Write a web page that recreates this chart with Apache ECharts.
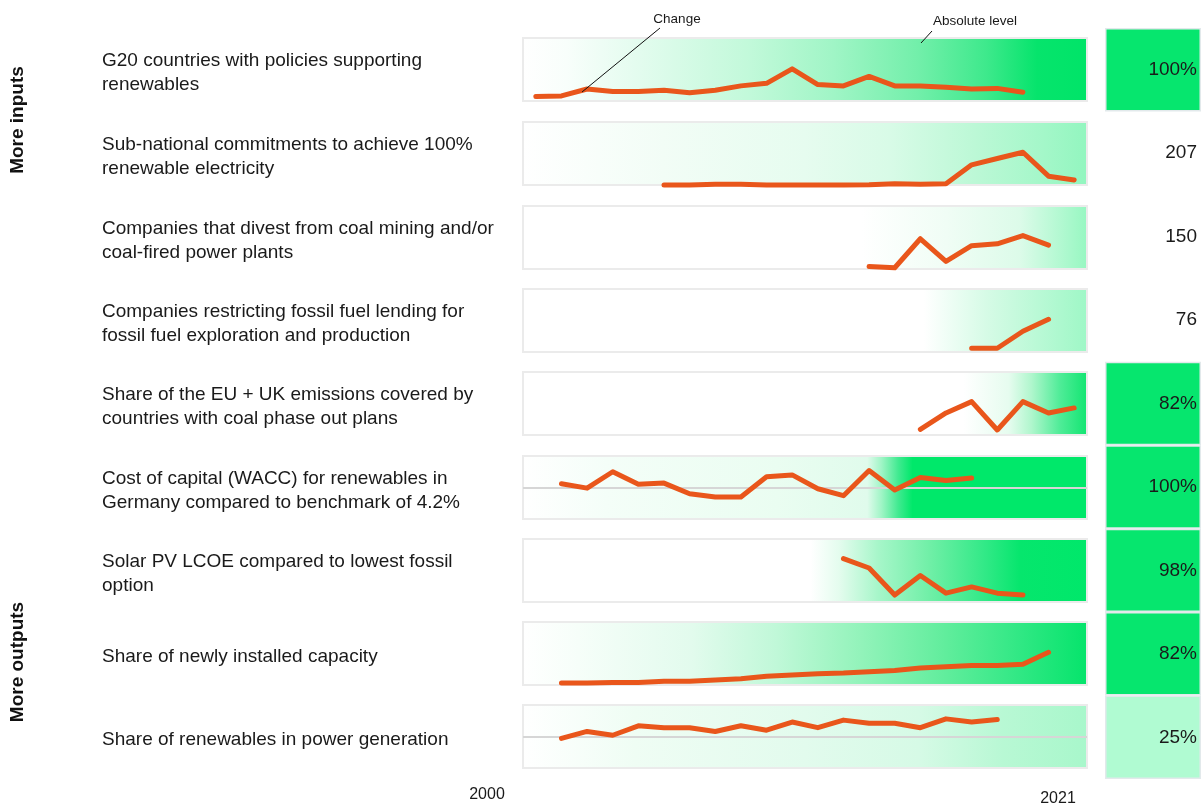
<!DOCTYPE html>
<html>
<head>
<meta charset="utf-8">
<script src="https://cdn.jsdelivr.net/npm/echarts@6/dist/echarts.min.js"></script>
<style>
html,body{margin:0;padding:0;background:#fff;}
#chart{width:1203px;height:805px;}
</style>
</head>
<body>
<div id="chart"></div>
<script>
// ---------- DATA ----------
const years = ['2000','2001','2002','2003','2004','2005','2006','2007','2008','2009','2010','2011','2012','2013','2014','2015','2016','2017','2018','2019','2020','2021'];
const tickLabels = ['2000', '2021'];
const indicators = [
  'G20 countries with policies supporting\nrenewables',
  'Sub-national commitments to achieve 100%\nrenewable electricity',
  'Companies that divest from coal mining and/or\ncoal-fired power plants',
  'Companies restricting fossil fuel lending for\nfossil fuel exploration and production',
  'Share of the EU + UK emissions covered by\ncountries with coal phase out plans',
  'Cost of capital (WACC) for renewables in\nGermany compared to benchmark of 4.2%',
  'Solar PV LCOE compared to lowest fossil\noption',
  'Share of newly installed capacity',
  'Share of renewables in power generation'
];
const absoluteLevel = ['100%', '207', '150', '76', '82%', '100%', '98%', '82%', '25%'];
// relative change values (0-100 within each sparkline panel), one per year 2000-2021
const g20Policies   = [7, 8, 19, 15, 15, 17, 13, 17, 24, 28, 51, 26, 24, 39, 24, 24, 22, 19, 20, 14, null, null];
const subNational   = [null, null, null, null, null, 0, 0, 1, 1, 0, 0, 0, 0, 0.5, 2, 1, 2, 32, 42, 52, 14, 8];
const coalDivest    = [null, null, null, null, null, null, null, null, null, null, null, null, null, 4, 2, 48, 12, 37, 40, 53, 38, null];
const fossilLending = [null, null, null, null, null, null, null, null, null, null, null, null, null, null, null, null, null, 6, 6, 33, 52, null];
const coalPhaseOut  = [null, null, null, null, null, null, null, null, null, null, null, null, null, null, null, 9, 35, 53, 8, 53, 35, 43];
const waccGermany   = [null, 56, 49, 75, 55, 57, 40, 35, 35, 67, 70, 48, 37, 77, 46, 66, 61, 65, null, null, null, null];
const solarLcoe     = [null, null, null, null, null, null, null, null, null, null, null, null, 69, 54, 11, 42, 14, 24, 14, 11, null, null];
const newCapacity   = [null, 3, 3, 4, 4, 6, 6, 8, 10, 14, 16, 18, 19, 21, 23, 27, 29, 31, 31, 33, 52, null];
const renewGen      = [null, 47, 58, 52, 67, 64, 64, 58, 67, 60, 73, 64, 76, 71, 71, 64, 78, 73, 77, null, null, null];
const seriesData = [g20Policies, subNational, coalDivest, fossilLending, coalPhaseOut, waccGermany, solarLcoe, newCapacity, renewGen];
const benchmarkRows = [5, 8]; // panels with a reference line at mid level
const benchmarkLevel = 50;

// ---------- STYLE ----------
const panelLeft = 523, panelWidth = 564, panelHeight = 63;
const panelTops = [38, 122, 206, 289, 372, 456, 539, 622, 705];
const W = '#ffffff';
const gradients = [
  [[0,W],[0.08,'#f8fefb'],[0.2,'#e4fcef'],[0.4,'#c2f9da'],[0.55,'#a0f5c6'],[0.7,'#72efaa'],[0.82,'#3ee98c'],[0.91,'#06e46c'],[1,'#00e468']],
  [[0,W],[0.25,'#f2fdf6'],[0.5,'#e6fcef'],[0.65,'#d8fbe7'],[0.8,'#bcf8d6'],[0.92,'#a4f7c9'],[1,'#92f6bf']],
  [[0,W],[0.6,W],[0.75,'#f0fdf5'],[0.88,'#dcfbe9'],[1,'#96f7c1']],
  [[0,W],[0.71,W],[0.82,'#d6fbe6'],[1,'#9ef7c6']],
  [[0,W],[0.78,W],[0.86,'#e6fcef'],[0.9,'#b0f6cd'],[0.95,'#50ec98'],[1,'#10e570']],
  [[0,W],[0.15,'#f4fef8'],[0.45,'#eafdf1'],[0.61,'#e0fbec'],[0.635,'#a0f5c6'],[0.665,'#40ea90'],[0.69,'#00e86a'],[1,'#00e86a']],
  [[0,W],[0.51,W],[0.56,'#e4fcee'],[0.63,'#a6f6c9'],[0.72,'#70efa7'],[0.82,'#30e986'],[0.88,'#06e66d'],[1,'#00e86a']],
  [[0,W],[0.1,'#f6fef9'],[0.3,'#e2fbed'],[0.45,'#c0f8d8'],[0.6,'#92f3ba'],[0.75,'#60ed9c'],[0.88,'#30e884'],[1,'#05e46b']],
  [[0,W],[0.2,'#effdf4'],[0.5,'#e2fbed'],[0.7,'#d6fae6'],[0.85,'#b8f8d4'],[1,'#a8f7cb']]
];
const boxColors = ['#06e66e', 'rgba(0,0,0,0)', 'rgba(0,0,0,0)', 'rgba(0,0,0,0)', '#06e66e', '#06e66e', '#06e66e', '#06e66e', '#b0fbd2'];
const lineColor = '#e9561b';
const FONT = '"Liberation Sans", Arial, sans-serif';

const grids = [], xAxes = [], yAxes = [], series = [], graphics = [];
seriesData.forEach((data, i) => {
  grids.push({
    left: panelLeft, top: panelTops[i], width: panelWidth, height: panelHeight,
    show: true, borderWidth: 2, borderColor: '#ebebeb',
    backgroundColor: {
      type: 'linear', x: 0, y: 0, x2: 1, y2: 0,
      colorStops: gradients[i].map(s => ({offset: s[0], color: s[1]}))
    }
  });
  xAxes.push({type: 'category', gridIndex: i, data: years, boundaryGap: true, show: false});
  yAxes.push({type: 'value', gridIndex: i, min: 0, max: 100, show: false});
  const s = {
    type: 'line', xAxisIndex: i, yAxisIndex: i, data: data,
    symbol: 'none', clip: false, z: 5,
    lineStyle: {color: lineColor, width: 5, cap: 'round', join: 'round'},
    silent: true
  };
  if (benchmarkRows.includes(i)) {
    s.markLine = {
      silent: true, symbol: 'none', label: {show: false}, z: 2,
      lineStyle: {color: '#d6d6d6', width: 2, type: 'solid'},
      data: [{yAxis: benchmarkLevel}]
    };
  }
  series.push(s);
  graphics.push({
    type: 'text', left: 102, top: panelTops[i] + panelHeight / 2 + 3 - (indicators[i].includes('\n') ? 24 : 12),
    style: {text: indicators[i], font: '19px ' + FONT, fill: '#1a1a1a', lineHeight: 24}
  });
});

// right column: absolute level cells
const boxGrid = grids.length;
grids.push({left: 1105, top: 28, width: 96, height: 751});
xAxes.push({type: 'value', gridIndex: boxGrid, min: 0, max: 1, show: false});
yAxes.push({type: 'category', gridIndex: boxGrid, data: indicators, inverse: true, show: false});
series.push({
  type: 'bar', xAxisIndex: boxGrid, yAxisIndex: boxGrid,
  barWidth: '100%', barCategoryGap: '0%', silent: true,
  data: absoluteLevel.map((v, i) => ({
    value: 1,
    itemStyle: {color: boxColors[i], borderColor: boxColors[i].startsWith('rgba') ? 'rgba(0,0,0,0)' : '#e2e9eb', borderWidth: 1.5}
  })),
  label: {
    show: true, position: 'insideRight', distance: 4,
    formatter: p => absoluteLevel[p.dataIndex],
    fontFamily: 'Liberation Sans, Arial, sans-serif', fontSize: 19, color: '#1a1a1a'
  }
});

// group labels, year labels, annotations
graphics.push(
  {type: 'text', x: 18, y: 120, rotation: Math.PI / 2,
   style: {text: 'More inputs', font: 'bold 19px ' + FONT, fill: '#111', align: 'center', verticalAlign: 'middle'}},
  {type: 'text', x: 18, y: 662, rotation: Math.PI / 2,
   style: {text: 'More outputs', font: 'bold 19px ' + FONT, fill: '#111', align: 'center', verticalAlign: 'middle'}},
  {type: 'text', x: 487, y: 795,
   style: {text: tickLabels[0], font: '16px ' + FONT, fill: '#1a1a1a', align: 'center', verticalAlign: 'middle'}},
  {type: 'text', x: 1058, y: 799,
   style: {text: tickLabels[1], font: '16px ' + FONT, fill: '#1a1a1a', align: 'center', verticalAlign: 'middle'}},
  {type: 'text', x: 677, y: 19,
   style: {text: 'Change', font: '13.5px ' + FONT, fill: '#1a1a1a', align: 'center', verticalAlign: 'middle'}},
  {type: 'text', x: 975, y: 21,
   style: {text: 'Absolute level', font: '13.5px ' + FONT, fill: '#1a1a1a', align: 'center', verticalAlign: 'middle'}},
  {type: 'line', shape: {x1: 660, y1: 28, x2: 582, y2: 92}, style: {stroke: '#111', lineWidth: 1}, z: 10},
  {type: 'line', shape: {x1: 932, y1: 31, x2: 921, y2: 43}, style: {stroke: '#111', lineWidth: 1}, z: 10}
);

const chart = echarts.init(document.getElementById('chart'), null, {renderer: 'canvas'});
chart.setOption({
  animation: false,
  backgroundColor: '#ffffff',
  grid: grids, xAxis: xAxes, yAxis: yAxes, series: series,
  graphic: graphics
});
</script>
</body>
</html>
